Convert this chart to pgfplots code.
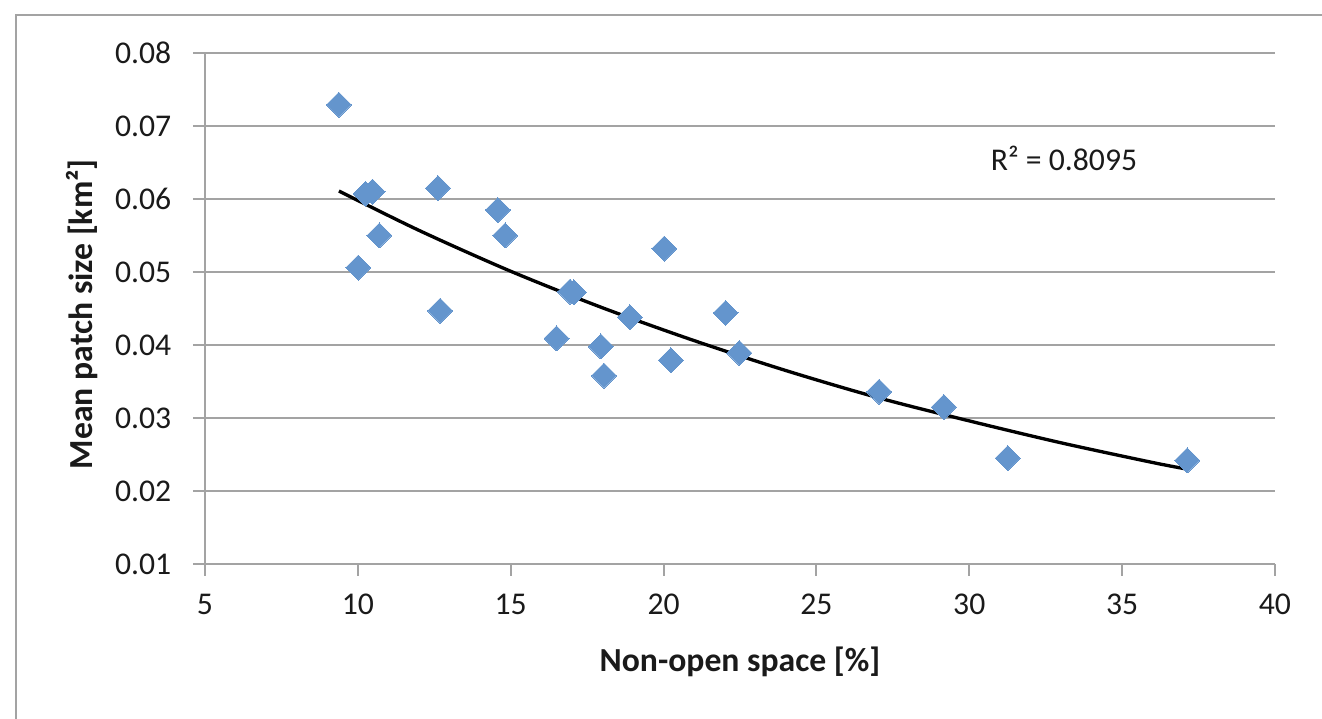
\documentclass[border=0pt]{standalone}
\usepackage{fontspec}
\setmainfont{Carlito}
\usepackage{pgfplots}
\pgfplotsset{compat=1.18}

\definecolor{gridgray}{HTML}{A3A3A3}
\definecolor{markblue}{HTML}{6495CD}
\definecolor{txt}{HTML}{1A1A1A}

% data
\begin{document}
\begin{tikzpicture}
\useasboundingbox (0,0) rectangle (396.6pt,215.7pt);
% chart area frame (cut at right and bottom)
\draw[gridgray, line width=0.6pt] (4.8pt,0pt) -- (4.8pt,211.2pt) -- (396.6pt,211.2pt);
\begin{axis}[
    at={(61.5pt,46.5pt)}, anchor=south west,
    scale only axis,
    width=321pt, height=153.3pt,
    xmin=5, xmax=40,
    ymin=0.01, ymax=0.08,
    xtick={5,10,...,40},
    ytick={0.01,0.02,...,0.08},
    axis x line*=bottom, axis y line*=left,
    axis line style={draw=gridgray, line width=0.6pt, -},
    ymajorgrids,
    grid style={draw=gridgray, line width=0.6pt},
    tick align=outside,
    major tick length=3.6pt,
    tick style={draw=gridgray, line width=0.6pt},
    scaled y ticks=false,
    /pgf/number format/assume math mode=true,
    yticklabel style={/pgf/number format/fixed, /pgf/number format/precision=2,
        /pgf/number format/fixed zerofill, xshift=-3pt},
    xticklabel style={yshift=-1.8pt},
    tick label style={font=\fontsize{9.5}{11}\selectfont, text=txt},
    xlabel={\bfseries Non-open space [\%]},
    ylabel={\bfseries Mean patch size [km²]},
    every axis x label/.style={at={(axis description cs:0.5,-0.192)}, anchor=center,
        font=\fontsize{10.1}{12}\selectfont\bfseries, text=txt},
    every axis y label/.style={at={(axis description cs:-0.115,0.489)}, anchor=center, rotate=90,
        font=\fontsize{10.1}{12}\selectfont\bfseries, text=txt},
]
\addplot[only marks, color=markblue, mark=square*, mark size=2.65pt,
    mark options={rotate=45, fill=markblue, draw=markblue, line width=0pt}] coordinates {
    (9.38,0.0729) (10.25,0.0607) (10.48,0.0610) (10.70,0.0550) (10.01,0.0506)
    (12.62,0.0615) (12.69,0.0447) (14.58,0.0585) (14.82,0.0550) (16.94,0.0473)
    (17.07,0.0472) (16.50,0.0409) (17.95,0.0398) (18.05,0.0358) (18.90,0.0438)
    (20.02,0.0532) (20.24,0.0379) (22.03,0.0444) (22.48,0.0389) (27.05,0.0336)
    (29.17,0.0315) (31.26,0.0245) (37.13,0.0242)
};
% trend line
\addplot[draw=black, line width=1.0pt, smooth] coordinates {
    (9.38,0.0611) (12,0.0557) (15,0.0501) (18,0.0451) (21,0.0406) (24,0.0365)
    (27,0.0328) (30,0.0296) (33,0.0266) (36,0.0239) (37.12,0.0230)
};
\node[font=\fontsize{9.5}{11}\selectfont, text=txt, anchor=center] at (axis cs:33.1,0.0656) {R² = 0.8095};
\end{axis}
\end{tikzpicture}
\end{document}
